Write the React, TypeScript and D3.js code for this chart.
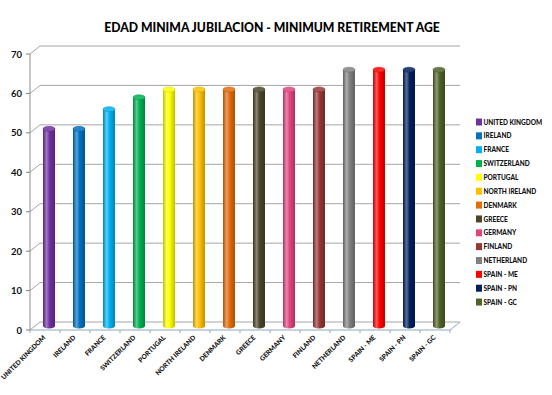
import React from 'react';
import * as d3 from 'd3';

const countries = [
  'UNITED KINGDOM', 'IRELAND', 'FRANCE', 'SWITZERLAND', 'PORTUGAL', 'NORTH IRELAND', 'DENMARK',
  'GREECE', 'GERMANY', 'FINLAND', 'NETHERLAND', 'SPAIN - ME', 'SPAIN - PN', 'SPAIN - GC',
];
const ages = [50, 50, 55, 58, 60, 60, 60, 60, 60, 60, 65, 65, 65, 65];
const colors = [
  '#7030A0', '#0070C0', '#00B0F0', '#00B050', '#FFFF00', '#FFC000', '#E36C0A',
  '#4A452A', '#E0457F', '#953735', '#808080', '#FF0000', '#002060', '#4F6228',
];
const yTicks = [0, 10, 20, 30, 40, 50, 60, 70];

const W = 552;
const H = 395;
const font = 'Lato, "Open Sans", sans-serif';

const App: React.FC = () => {
  const x = d3.scaleBand<string>().domain(countries).range([30, 450]).padding(0);
  const y = d3.scaleLinear().domain([0, 70]).range([330, 54]);
  const dx = 10;
  const dy = -8;
  const r = 6;
  const ry = 2.5;

  return (
    <div style={{ position: 'absolute', left: 0, top: 0 }}>
      <svg width={W} height={H} style={{ display: 'block', background: '#fff' }}>
        <defs>
          {colors.map((c, i) => {
            const dark = d3.color(c)!.darker(0.8).toString();
            const light = d3.interpolateRgb(c, '#ffffff')(0.35);
            return (
              <linearGradient key={i} id={`cyl${i}`} x1="0" x2="1" y1="0" y2="0">
                <stop offset="0%" stopColor={dark} />
                <stop offset="30%" stopColor={light} />
                <stop offset="55%" stopColor={c} />
                <stop offset="100%" stopColor={dark} />
              </linearGradient>
            );
          })}
        </defs>

        <text x={272} y={32} textAnchor="middle" fontFamily={font} fontWeight="900" fontSize={12.2} fill="#000">
          EDAD MINIMA JUBILACION - MINIMUM RETIREMENT AGE
        </text>

        {/* back wall gridlines + side diagonals */}
        {yTicks.map((t) => (
          <g key={t}>
            <line x1={30} y1={y(t)} x2={30 + dx} y2={y(t) + dy} stroke="#a6a6a6" strokeWidth={1} />
            <line x1={30 + dx} y1={y(t) + dy} x2={450 + dx} y2={y(t) + dy} stroke="#a6a6a6" strokeWidth={1} />
            <line x1={26} y1={y(t)} x2={30} y2={y(t)} stroke="#7f7f7f" />
            <text x={22} y={y(t) + 3.5} textAnchor="end" fontFamily={font} fontWeight="bold" fontSize={9.5} fill="#111">
              {t}
            </text>
          </g>
        ))}

        {/* left axis and floor */}
        <line x1={30} y1={y(0)} x2={30} y2={y(70)} stroke="#8c8c8c" />
        <line x1={30} y1={y(0)} x2={450} y2={y(0)} stroke="#8ea9c1" />
        <line x1={450} y1={y(0)} x2={450 + dx} y2={y(0) + dy} stroke="#8ea9c1" />
        {countries.map((c) => (
          <line key={c} x1={x(c)!} y1={y(0)} x2={x(c)!} y2={y(0) + 3} stroke="#8ea9c1" />
        ))}
        <line x1={450} y1={y(0)} x2={450} y2={y(0) + 3} stroke="#8ea9c1" />

        {/* cylinders */}
        {countries.map((c, i) => {
          const cx = x(c)! + x.bandwidth() / 2 + dx / 2 - 1;
          const yTop = y(ages[i]) + dy / 2;
          const yBot = y(0) + dy / 2;
          const topFill = d3.interpolateRgb(colors[i], '#ffffff')(0.15);
          return (
            <g key={c}>
              <ellipse cx={cx} cy={yBot} rx={r} ry={ry} fill={`url(#cyl${i})`} />
              <rect x={cx - r} y={yTop} width={2 * r} height={yBot - yTop} fill={`url(#cyl${i})`} />
              <ellipse cx={cx} cy={yTop} rx={r} ry={ry} fill={topFill} stroke={d3.color(colors[i])!.darker(0.5).toString()} strokeWidth={0.5} />
            </g>
          );
        })}

        {/* x labels */}
        {countries.map((c) => {
          const px = x(c)! + x.bandwidth() / 2 + 1;
          const py = y(0) + 8;
          return (
            <text key={c} transform={`translate(${px},${py}) rotate(-45)`} textAnchor="end"
              fontFamily={font} fontWeight="900" fontSize={6.6} fill="#111">
              {c}
            </text>
          );
        })}

        {/* legend */}
        {countries.map((c, i) => {
          const ly = 122 + i * 13.85;
          return (
            <g key={c}>
              <rect x={476} y={ly - 3.5} width={6} height={7} fill={colors[i]} />
              <text x={483.5} y={ly + 2.6} fontFamily={font} fontWeight="900" fontSize={6.5} fill="#111">
                {c}
              </text>
            </g>
          );
        })}
      </svg>
    </div>
  );
};

export default App;
